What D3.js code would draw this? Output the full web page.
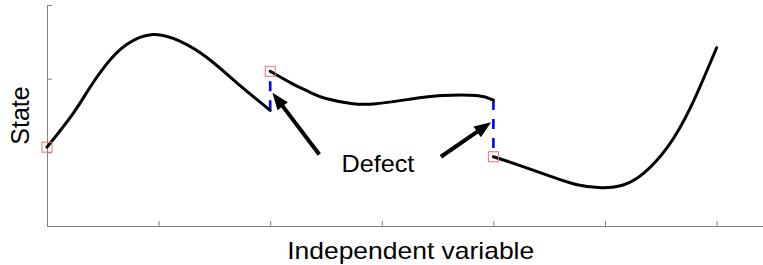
<!DOCTYPE html>
<html>
<head>
<meta charset="utf-8">
<script src="https://cdn.jsdelivr.net/npm/d3@7"></script>
<style>
  html, body { margin: 0; padding: 0; background: #fff; }
  svg { display: block; }
  text { font-family: Arial, "Liberation Sans", Helvetica, sans-serif; fill: #000; }
  .axis path, .axis line { stroke: #808080; }
</style>
</head>
<body>
<div id="chart"></div>
<script>
// piecewise state (x: independent variable, y: state)
var seg1X = [0, 0.23, 0.38, 0.53, 0.71, 0.95, 1.19, 1.43, 1.72, 2.0];
var seg1Y = [1.07, 1.52, 1.87, 2.19, 2.46, 2.60, 2.51, 2.29, 1.92, 1.57];
var seg2X = [2.0, 2.20, 2.35, 2.50, 2.74, 2.95, 3.25, 3.54, 3.85, 4.0];
var seg2Y = [2.10, 1.93, 1.82, 1.73, 1.66, 1.66, 1.72, 1.77, 1.77, 1.71];
var seg3X = [4.0, 4.22, 4.52, 4.75, 4.97, 5.17, 5.35, 5.56, 5.77, 6.0];
var seg3Y = [0.94, 0.83, 0.67, 0.56, 0.52, 0.56, 0.72, 1.07, 1.62, 2.42];

var xTicks = [1, 2, 3, 4, 5, 6];
var yTicks = [0, 1, 2, 3];

// annotation: label + arrows (data units)
var defectLabel = "Defect";
var defectAt = [2.965, 0.73];
var arrowFrom = [[2.44, 0.97], [3.53, 0.94]];
var arrowTo = [[2.02, 1.81], [3.98, 1.41]];

var xLabel = "Independent variable";
var yLabel = "State";

(function() {
  var width = 763, height = 265;
  var svg = d3.select("#chart").append("svg")
    .attr("width", width)
    .attr("height", height);

  var x = d3.scaleLinear().domain([0, 6.5]).range([47, 772.4]);
  var y = d3.scaleLinear().domain([0, 3]).range([226, 5]);

  // axes, ticks pointing inward, no labels
  svg.append("g")
    .attr("class", "axis")
    .attr("transform", "translate(0," + y(0) + ")")
    .call(d3.axisBottom(x).tickValues(xTicks).tickSizeInner(-5).tickSizeOuter(0).tickFormat(""));
  svg.append("g")
    .attr("class", "axis")
    .attr("transform", "translate(" + x(0) + ",0)")
    .call(d3.axisLeft(y).tickValues(yTicks).tickSizeInner(-5).tickSizeOuter(0).tickFormat(""));

  var line = d3.line()
    .x(function(d) { return x(d[0]); })
    .y(function(d) { return y(d[1]); })
    .curve(d3.curveNatural);

  var segments = [[seg1X, seg1Y], [seg2X, seg2Y], [seg3X, seg3Y]].map(function(s) {
    return s[0].map(function(v, i) { return [v, s[1][i]]; });
  });

  // dashed jumps between the end of one piece and the start of the next
  for (var i = 0; i < segments.length - 1; i++) {
    var a = segments[i][segments[i].length - 1];
    var b = segments[i + 1][0];
    svg.append("line")
      .attr("x1", x(a[0])).attr("y1", y(a[1]))
      .attr("x2", x(b[0])).attr("y2", y(b[1]))
      .attr("stroke", "#0000ff")
      .attr("stroke-width", 2.6)
      .attr("stroke-dasharray", "10,9");
  }

  svg.selectAll("path.seg")
    .data(segments)
    .enter().append("path")
    .attr("class", "seg")
    .attr("d", line)
    .attr("fill", "none")
    .attr("stroke", "#000")
    .attr("stroke-width", 3)
    .attr("stroke-linecap", "round");

  // open squares at each piece's start
  var sq = 10;
  svg.selectAll("rect.start")
    .data(segments.map(function(s) { return s[0]; }))
    .enter().append("rect")
    .attr("class", "start")
    .attr("x", function(d) { return x(d[0]) - sq / 2; })
    .attr("y", function(d) { return y(d[1]) - sq / 2; })
    .attr("width", sq)
    .attr("height", sq)
    .attr("fill", "none")
    .attr("stroke", "#f07070")
    .attr("stroke-width", 1);

  // arrows
  var headLen = 17, headHalf = 6.5;
  arrowFrom.forEach(function(f, k) {
    var t = arrowTo[k];
    var x1 = x(f[0]), y1 = y(f[1]), x2 = x(t[0]), y2 = y(t[1]);
    var dx = x2 - x1, dy = y2 - y1, len = Math.sqrt(dx * dx + dy * dy);
    var ux = dx / len, uy = dy / len;
    var bx = x2 - ux * headLen, by = y2 - uy * headLen;
    svg.append("line")
      .attr("x1", x1).attr("y1", y1)
      .attr("x2", bx + ux * 2).attr("y2", by + uy * 2)
      .attr("stroke", "#000")
      .attr("stroke-width", 4);
    svg.append("polygon")
      .attr("points", [
        [x2, y2],
        [bx - uy * headHalf, by + ux * headHalf],
        [bx + uy * headHalf, by - ux * headHalf]
      ].map(function(p) { return p.join(","); }).join(" "))
      .attr("fill", "#000");
  });

  svg.append("text")
    .attr("x", x(defectAt[0]))
    .attr("y", y(defectAt[1]))
    .attr("text-anchor", "middle")
    .attr("font-size", 24)
    .attr("textLength", 73)
    .attr("lengthAdjust", "spacingAndGlyphs")
    .text(defectLabel);

  svg.append("text")
    .attr("x", 410.7)
    .attr("y", 258.5)
    .attr("text-anchor", "middle")
    .attr("font-size", 24)
    .attr("textLength", 247)
    .attr("lengthAdjust", "spacingAndGlyphs")
    .text(xLabel);

  svg.append("text")
    .attr("transform", "translate(28.5," + ((y(0) + y(3)) / 2) + ") rotate(-90)")
    .attr("text-anchor", "middle")
    .attr("font-size", 25)
    .text(yLabel);
})();
</script>
</body>
</html>
